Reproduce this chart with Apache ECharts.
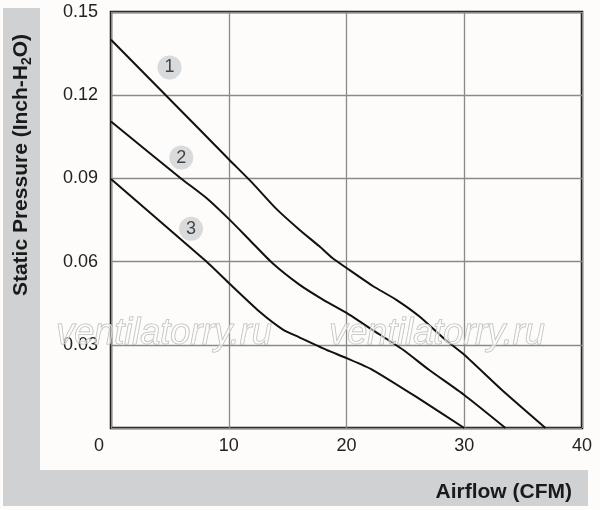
<!DOCTYPE html>
<html>
<head>
<meta charset="utf-8">
<script src="https://cdn.jsdelivr.net/npm/echarts@6/dist/echarts.min.js"></script>
<style>
html,body{margin:0;padding:0;background:#fdfcfb;}
#c{width:600px;height:510px;}
</style>
</head>
<body>
<div id="c"></div>
<script>
// Data (Airflow CFM, Static Pressure inch-H2O)
const curve1 = [[0,0.140],[7.5,0.1077],[10,0.0969],[12,0.0884],[14,0.0792],[16,0.0715],[17.7,0.0655],[18.8,0.0613],[20,0.0577],[22.2,0.0513],[24.2,0.0463],[26.2,0.0402],[28.4,0.0318],[30,0.0264],[33.2,0.0137],[36.9,0]];
const curve2 = [[0,0.1105],[5.97,0.0899],[8.08,0.083],[10,0.0754],[11.75,0.0679],[13.7,0.0595],[16,0.0517],[18,0.0463],[20,0.0415],[22.2,0.0354],[24.8,0.0282],[27,0.021],[30,0.0119],[33.5,0]];
const curve3 = [[0,0.0898],[8.08,0.0601],[10,0.0523],[12.6,0.042],[14.6,0.0355],[16,0.0327],[18.3,0.0282],[20,0.0252],[22.2,0.021],[25.9,0.0113],[30,0]];
const curveLabels = ['1','2','3'];
const labelPos = [[4.97,0.130],[5.97,0.0975],[6.8,0.0718]];
const xTicks = [0,10,20,30,40];
const yTicks = [0,0.03,0.06,0.09,0.12,0.15];

const chart = echarts.init(document.getElementById('c'));
const lineSeries = [curve1, curve2, curve3].map(d => ({
  type:'line', data:d, showSymbol:false, smooth:0.2,
  lineStyle:{color:'#111', width:2}, z:3, silent:true
}));
const font = 'Liberation Sans, Arial, sans-serif';
chart.setOption({
  backgroundColor:'#fdfcfb',
  animation:false,
  graphic:[
    {type:'rect', shape:{x:3,y:8,width:37,height:498}, style:{fill:'#d0d1d3'}, z:-10},
    {type:'rect', shape:{x:3,y:470,width:585,height:36}, style:{fill:'#d0d1d3'}, z:-10},
    {type:'text', x:21, y:165, rotation:Math.PI/2,
      style:{text:'Static Pressure (Inch-H{s|2}O)', font:'bold 21px '+font, fill:'#1a1a1a', align:'center', verticalAlign:'middle', lineHeight:26,
        rich:{s:{fontSize:14, fontWeight:'bold', fontFamily:font, fill:'#1a1a1a', verticalAlign:'bottom', lineHeight:14}}}, z:5},
    {type:'text', x:572, y:492, style:{text:'Airflow (CFM)', font:'bold 21px '+font, fill:'#1a1a1a', align:'right', verticalAlign:'middle'}, z:5},
    {type:'text', x:164, y:334, style:{text:'ventilatorry.ru', font:'italic 36px '+font, fill:'rgba(255,255,255,0.5)', stroke:'#b8b8b8', lineWidth:1, align:'center', verticalAlign:'middle'}, z:100},
    {type:'text', x:437, y:334, style:{text:'ventilatorry.ru', font:'italic 36px '+font, fill:'rgba(255,255,255,0.5)', stroke:'#b8b8b8', lineWidth:1, align:'center', verticalAlign:'middle'}, z:100}
  ],
  grid:{left:111, right:18, top:12, bottom:82, show:true, borderColor:'#111', borderWidth:2.5, backgroundColor:'#fdfcfb'},
  xAxis:{type:'value', min:xTicks[0], max:xTicks[xTicks.length-1], interval:10,
    axisLine:{show:false}, axisTick:{show:false},
    splitLine:{lineStyle:{color:'#8a8a8a', width:1.3}},
    axisLabel:{fontSize:18, color:'#222', fontFamily:font, margin:9,
      formatter:v => v===0 ? '{z|0}' : String(v),
      rich:{z:{fontSize:18, color:'#222', fontFamily:font, padding:[0,24,0,0]}}}},
  yAxis:{type:'value', min:yTicks[0], max:yTicks[yTicks.length-1], interval:0.03,
    axisLine:{show:false}, axisTick:{show:false},
    splitLine:{lineStyle:{color:'#8a8a8a', width:1.3}},
    axisLabel:{fontSize:18, color:'#222', fontFamily:font, margin:13,
      formatter:v => v===0 ? '' : v.toFixed(2)}},
  series:[...lineSeries,
    {type:'scatter', data:labelPos.map((p,i)=>({value:p, name:curveLabels[i]})), symbolSize:24,
      itemStyle:{color:'#d0d1d3'}, z:4, silent:true,
      label:{show:true, position:'inside', formatter:p=>'{n|'+p.name+'}',
        rich:{n:{fontSize:18, color:'#1a1a1a', fontFamily:font}}}}
  ]
});
</script>
</body>
</html>
